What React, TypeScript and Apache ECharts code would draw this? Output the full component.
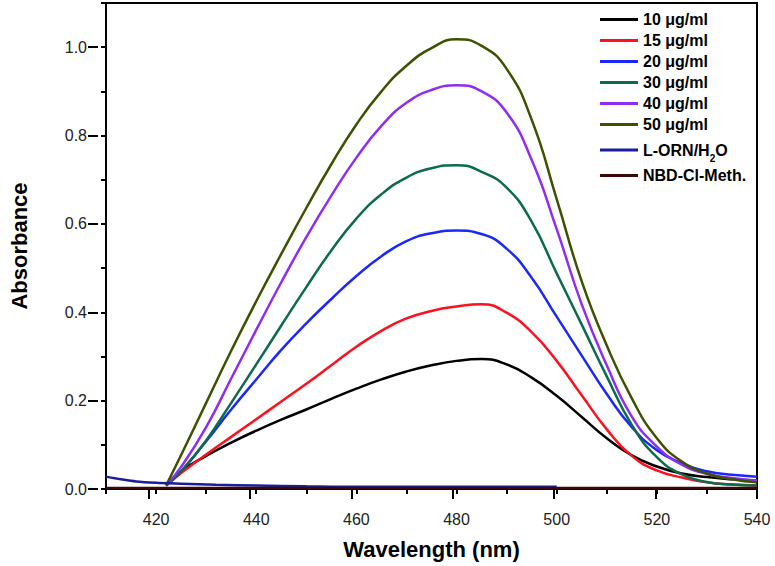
import React, { useEffect, useRef } from 'react';
import * as echarts from 'echarts';

// Wavelength grid (nm) for the concentration spectra
const wavelengths = [422, 425, 430, 435, 440, 445, 450, 455, 460, 465, 470, 475, 480, 485, 490, 495, 500, 505, 510, 515, 520, 525, 530, 535, 540];

const conc10 = [0.008, 0.040, 0.075, 0.105, 0.132, 0.157, 0.180, 0.204, 0.227, 0.248, 0.266, 0.280, 0.290, 0.294, 0.282, 0.252, 0.211, 0.163, 0.115, 0.076, 0.051, 0.035, 0.027, 0.022, 0.019];
const conc15 = [0.008, 0.036, 0.078, 0.118, 0.158, 0.198, 0.238, 0.280, 0.322, 0.358, 0.386, 0.403, 0.413, 0.418, 0.399, 0.355, 0.290, 0.212, 0.135, 0.075, 0.042, 0.026, 0.015, 0.010, 0.008];
const conc20 = [0.008, 0.040, 0.108, 0.180, 0.248, 0.315, 0.375, 0.430, 0.482, 0.527, 0.561, 0.579, 0.585, 0.577, 0.544, 0.478, 0.390, 0.302, 0.215, 0.140, 0.088, 0.058, 0.040, 0.032, 0.028];
const conc30 = [0.008, 0.040, 0.110, 0.195, 0.282, 0.370, 0.457, 0.540, 0.612, 0.667, 0.705, 0.726, 0.733, 0.718, 0.682, 0.605, 0.488, 0.372, 0.255, 0.145, 0.072, 0.033, 0.016, 0.010, 0.008];
const conc40 = [0.008, 0.050, 0.140, 0.250, 0.360, 0.468, 0.570, 0.664, 0.750, 0.822, 0.874, 0.903, 0.914, 0.900, 0.852, 0.745, 0.588, 0.418, 0.280, 0.164, 0.096, 0.055, 0.034, 0.025, 0.019];
const conc50 = [0.008, 0.077, 0.195, 0.313, 0.425, 0.532, 0.636, 0.735, 0.825, 0.900, 0.958, 0.998, 1.018, 1.003, 0.951, 0.836, 0.656, 0.470, 0.325, 0.205, 0.115, 0.062, 0.035, 0.022, 0.015];

// L-ORN/H2O blank
const ornWavelengths = [410, 413, 416, 420, 425, 432, 440, 450, 460, 470, 480, 490, 500];
const ornValues = [0.028, 0.022, 0.017, 0.014, 0.012, 0.0095, 0.008, 0.006, 0.005, 0.005, 0.005, 0.005, 0.005];

// NBD-Cl-Meth. blank
const nbdWavelengths = [410, 540];
const nbdValues = [0.002, 0.002];

const seriesNames = ['10 μg/ml', '15 μg/ml', '20 μg/ml', '30 μg/ml', '40 μg/ml', '50 μg/ml', 'L-ORN/H2O', 'NBD-Cl-Meth.'];
const seriesColors = ['#000000', '#ff1020', '#1a28ff', '#0b6b4c', '#8f2cf5', '#3d5200', '#1c1c9c', '#3a0808'];

const xMajorTicks = [420, 440, 460, 480, 500, 520, 540];
const yMajorTicks = [0, 0.2, 0.4, 0.6, 0.8, 1.0];

const FONT = '"Liberation Sans", Arial, sans-serif';

function pairs(xs: number[], ys: number[]) {
  return xs.map((x, i) => [x, ys[i]]);
}

export default function App() {
  const ref = useRef<HTMLDivElement>(null);
  useEffect(() => {
    if (!ref.current) return;
    const chart = echarts.init(ref.current, null, { renderer: 'svg' });
    const concData = [conc10, conc15, conc20, conc30, conc40, conc50];
    const series: any[] = concData.map((vals, i) => ({
      name: seriesNames[i],
      type: 'line',
      xAxisIndex: 0,
      yAxisIndex: 0,
      data: pairs(wavelengths, vals),
      smooth: 0.5,
      showSymbol: false,
      symbol: 'none',
      color: seriesColors[i],
      lineStyle: { color: seriesColors[i], width: 2.5 },
    }));
    series.push({
      name: seriesNames[6],
      type: 'line',
      data: pairs(ornWavelengths, ornValues),
      smooth: 0.3,
      showSymbol: false,
      symbol: 'none',
      color: seriesColors[6],
      lineStyle: { color: seriesColors[6], width: 2.5 },
    });
    series.push({
      name: seriesNames[7],
      type: 'line',
      data: pairs(nbdWavelengths, nbdValues),
      showSymbol: false,
      symbol: 'none',
      color: seriesColors[7],
      lineStyle: { color: seriesColors[7], width: 2.5 },
    });

    const gridBox = { left: 98, top: 3, width: 659, height: 486 };
    chart.setOption({
      animation: false,
      backgroundColor: '#ffffff',
      grid: [
        { ...gridBox, show: true, borderColor: '#000', borderWidth: 2, backgroundColor: 'transparent' },
        { ...gridBox, show: false },
      ],
      legend: {
        orient: 'vertical',
        left: 595,
        top: 6,
        icon: 'rect',
        itemWidth: 38,
        itemHeight: 3,
        itemGap: 4,
        selectedMode: false,
        data: seriesNames,
        formatter: (name: string) =>
          name === 'L-ORN/H2O' ? '{b|L-ORN/H}{s|2}{b|O}' : name,
        textStyle: {
          fontFamily: FONT,
          fontSize: 16,
          fontWeight: 'bold',
          color: '#000',
          lineHeight: 17,
          rich: {
            b: { fontFamily: FONT, fontSize: 16, fontWeight: 'bold', color: '#000', lineHeight: 17 },
            s: { fontFamily: FONT, fontSize: 10, fontWeight: 'bold', color: '#000', lineHeight: 10, padding: [16, 0, 0, 0] },
          },
        },
      },
      xAxis: [
        {
          type: 'value',
          gridIndex: 0,
          min: 410,
          max: 540,
          interval: 10,
          axisLine: { show: true, onZero: false, lineStyle: { color: '#000', width: 2 } },
          axisTick: { show: true, length: 5, lineStyle: { color: '#000', width: 2 } },
          axisLabel: {
            formatter: (v: number) => (Math.round(v) % 20 === 0 ? String(Math.round(v)) : ''),
            margin: 22,
            fontSize: 16,
            color: '#222',
            fontFamily: FONT,
            showMaxLabel: true,
          },
          splitLine: { show: false },
          name: 'Wavelength (nm)',
          nameLocation: 'middle',
          nameGap: 49,
          nameTextStyle: { fontSize: 22, fontWeight: 'bold', color: '#000', fontFamily: FONT },
        },
        {
          type: 'value',
          gridIndex: 1,
          min: 410,
          max: 540,
          axisLine: { show: false },
          axisTick: { show: true, length: 10, customValues: xMajorTicks, lineStyle: { color: '#000', width: 2 } },
          axisLabel: { show: false },
          splitLine: { show: false },
        },
      ],
      yAxis: [
        {
          type: 'value',
          gridIndex: 0,
          min: 0,
          max: 1.1,
          interval: 0.1,
          axisLine: { show: true, onZero: false, lineStyle: { color: '#000', width: 2 } },
          axisTick: { show: true, length: 5, lineStyle: { color: '#000', width: 2 } },
          axisLabel: {
            formatter: (v: number) => {
              const k = Math.round(v * 10);
              return k % 2 === 0 && k <= 10 ? (k / 10).toFixed(1) : '';
            },
            margin: 19,
            fontSize: 16,
            color: '#222',
            fontFamily: FONT,
          },
          splitLine: { show: false },
          name: 'Absorbance',
          nameLocation: 'middle',
          nameGap: 76,
          nameTextStyle: { fontSize: 22, fontWeight: 'bold', color: '#000', fontFamily: FONT },
        },
        {
          type: 'value',
          gridIndex: 1,
          min: 0,
          max: 1.1,
          axisLine: { show: false },
          axisTick: { show: true, length: 10, customValues: yMajorTicks, lineStyle: { color: '#000', width: 2 } },
          axisLabel: { show: false },
          splitLine: { show: false },
        },
      ],
      series,
    });
    return () => chart.dispose();
  }, []);
  return (
    <div
      ref={ref}
      style={{ position: 'fixed', left: 0, top: 0, width: 775, height: 566, background: '#fff' }}
    />
  );
}
